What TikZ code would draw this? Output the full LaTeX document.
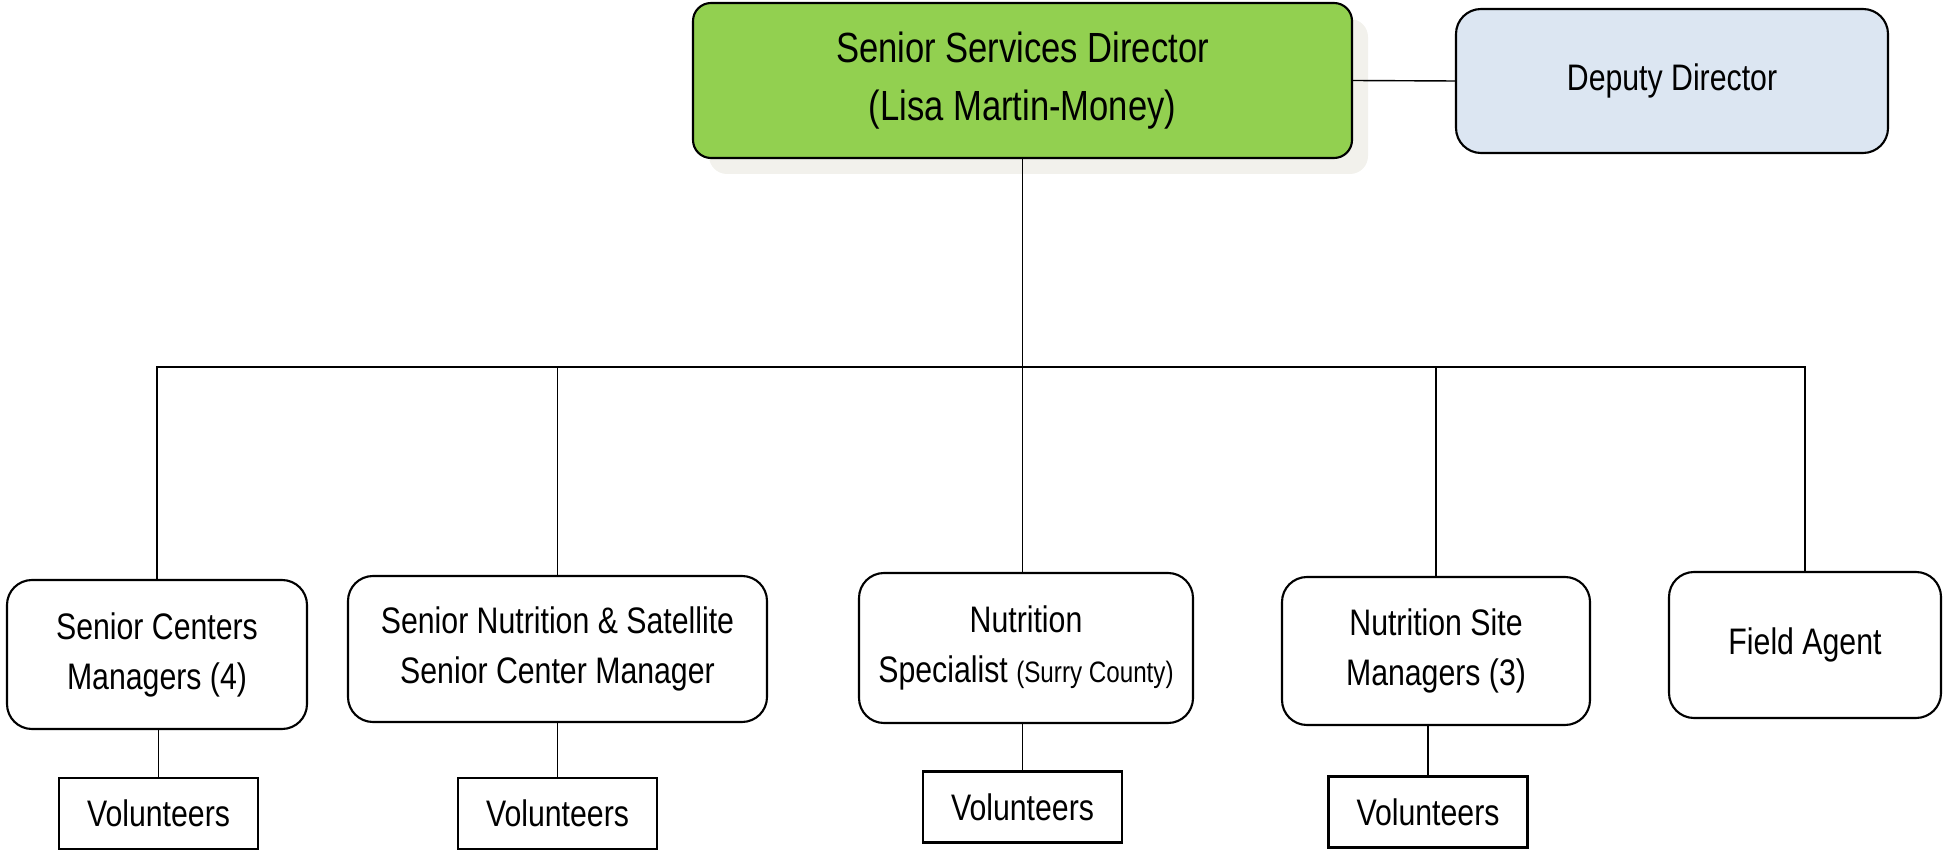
\documentclass[tikz,border=0pt]{standalone}
\usepackage{fontspec}
\setmainfont{Liberation Sans}[FakeStretch=0.82]
\usepackage{tikz}
\usetikzlibrary{positioning,calc,shadows}
\definecolor{dirgreen}{HTML}{92D050}
\definecolor{depblue}{HTML}{DCE6F2}
\definecolor{shadowgray}{HTML}{F2F1EC}
\tikzset{mgr/.style={rounded corners=0.25cm, draw, line width=0.6pt, align=center, inner sep=0pt, font=\fontsize{10.5}{14.2}\selectfont}}
\tikzset{vol/.style={draw, line width=0.75pt, minimum width=1.99cm, minimum height=0.71cm, inner sep=0pt, font=\fontsize{10.5}{14.2}\selectfont}}
\tikzset{link/.style={draw, line width=0.4pt}}

\begin{document}
\begin{tikzpicture}
    \useasboundingbox (0,0) rectangle (19.43,8.51);
    \node[mgr, rounded corners=0.18cm, fill=dirgreen, minimum width=6.59cm, minimum height=1.55cm, font=\fontsize{12}{16.6}\selectfont, drop shadow={shadow xshift=0.16cm, shadow yshift=-0.16cm, fill=shadowgray, opacity=1, draw=none}] (dir) at (10.225,7.705) {Senior Services Director\\(Lisa Martin-Money)};
    \node[mgr, fill=depblue, minimum width=4.32cm, minimum height=1.44cm] (dep) at (16.72,7.70) {Deputy Director};

    \node[mgr, minimum width=3.00cm, minimum height=1.49cm] (c1) at (1.57,1.965) {Senior Centers\\Managers (4)};
    \node[mgr, minimum width=4.19cm, minimum height=1.46cm] (c2) at (5.575,2.02) {Senior Nutrition \& Satellite\\Senior Center Manager};
    \node[mgr, minimum width=3.34cm, minimum height=1.50cm] (c3) at (10.26,2.03) {Nutrition\\Specialist {\fontsize{8.4}{14}\selectfont (Surry County)}};
    \node[mgr, minimum width=3.08cm, minimum height=1.48cm] (c4) at (14.36,2.00) {Nutrition Site\\Managers (3)};
    \node[mgr, minimum width=2.72cm, minimum height=1.46cm] (c5) at (18.05,2.06) {Field Agent};

    \node[vol] (v1) at (1.585,0.375) {Volunteers};
    \node[vol] (v2) at (5.575,0.375) {Volunteers};
    \node[vol] (v3) at (10.225,0.44) {Volunteers};
    \node[vol] (v4) at (14.28,0.39) {Volunteers};

    \coordinate (bus) at (10.225,4.84);
    \draw[link] (dir.east) to (dep.west);
    \draw[link] (dir.south) to (dir.south |- c3.north);
    \foreach \m in {c1,c2,c4,c5}
        \draw[link] (bus) -| (\m.north);
    \foreach \m/\v in {c1/v1,c2/v2,c3/v3,c4/v4}
        \draw[link] (\m.south -| \v.north) to (\v.north);
\end{tikzpicture}
\end{document}
